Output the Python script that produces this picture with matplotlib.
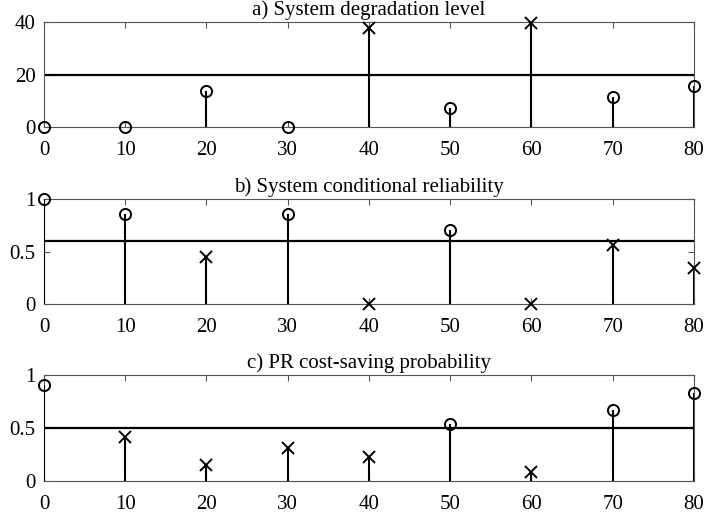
import numpy as np
import matplotlib
matplotlib.use("Agg")
import matplotlib.pyplot as plt

plt.rcParams['font.family'] = ['Liberation Serif', 'DejaVu Serif']
plt.rcParams['mathtext.fontset'] = 'stix'

# inspection times
t = [0, 10, 20, 30, 40, 50, 60, 70, 80]

# a) degradation level, threshold 20
degradation = [0, 0, 13.8, 0, 37.8, 7.4, 39.5, 11.5, 15.6]
deg_threshold = 20

# b) conditional reliability, threshold 0.6
reliability = [1.0, 0.863, 0.453, 0.863, 0.0, 0.708, 0.0, 0.565, 0.349]
rel_threshold = 0.6

# c) PR cost-saving probability, threshold 0.5
saving = [0.905, 0.41, 0.149, 0.307, 0.22, 0.534, 0.08, 0.669, 0.827]
sav_threshold = 0.5

titles = ["a) System degradation level",
          "b) System conditional reliability",
          "c) PR cost-saving probability"]
yticks = [[0, 20, 40], [0, 0.5, 1], [0, 0.5, 1]]
yticklabels = [["0", "20", "40"], ["0", "0.5", "1"], ["0", "0.5", "1"]]
ylims = [(0, 40), (0, 1), (0, 1)]

# marker rule: circle when "ok" side of the threshold
panels = [
    (degradation, deg_threshold, lambda v, th: v < th),
    (reliability, rel_threshold, lambda v, th: v >= th),
    (saving, sav_threshold, lambda v, th: v >= th),
]

# axes boxes in figure fraction (left, bottom, width, height)
boxes = [(0.0623, 0.754, 0.9207, 0.203),
         (0.0623, 0.4103, 0.9207, 0.2035),
         (0.0623, 0.0684, 0.9207, 0.2049)]

fig = plt.figure(figsize=(7.06, 5.16), dpi=100)
fsize = 15
for k, (vals, th, is_ok) in enumerate(panels):
    ax = fig.add_axes(boxes[k])
    x = np.array(t)
    y = np.array(vals)
    ax.vlines(x, 0, y, color='black', lw=1.5, zorder=3)
    ax.plot([0, 80], [th, th], color='black', lw=1.6, zorder=2)
    ok = np.array([is_ok(v, th) for v in vals])
    ax.plot(x[ok], y[ok], 'o', ms=8, mfc='none', mec='black', mew=1.4,
            clip_on=False, zorder=4)
    ax.plot(x[~ok], y[~ok], 'x', ms=9, mec='black', mew=1.4,
            clip_on=False, zorder=4)
    ax.set_xlim(0, 80)
    ax.set_ylim(*ylims[k])
    ax.set_xticks(t)
    ax.set_yticks(yticks[k])
    ax.set_yticklabels(yticklabels[k])
    ax.tick_params(direction='in', top=True, right=True, length=4,
                   width=0.8, color='#555555', labelsize=fsize)
    ax.tick_params(axis='x', pad=10)
    ax.tick_params(axis='y', pad=6)
    for s in ax.spines.values():
        s.set_color('#555555')
        s.set_linewidth(0.8)
    ax.set_title(titles[k], fontsize=fsize, pad=5)

fig.savefig("out.png", dpi=100)
